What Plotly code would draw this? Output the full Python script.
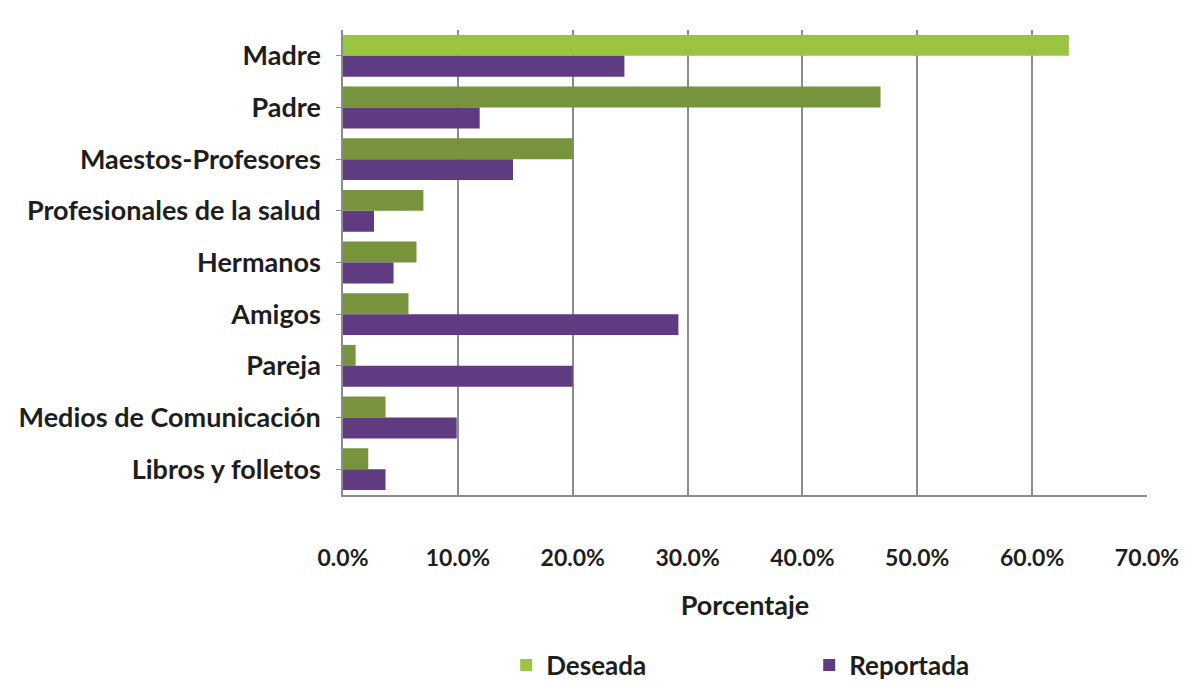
import plotly.graph_objects as go

categorias = ['Madre', 'Padre', 'Maestos-Profesores', 'Profesionales de la salud', 'Hermanos',
              'Amigos', 'Pareja', 'Medios de Comunicación', 'Libros y folletos']
deseada = [63.2, 46.8, 20.0, 7.0, 6.4, 5.7, 1.1, 3.7, 2.2]
reportada = [24.5, 11.9, 14.8, 2.7, 4.4, 29.2, 20.0, 9.9, 3.7]
ticks = [0, 10, 20, 30, 40, 50, 60, 70]
tick_labels = ['0.0%', '10.0%', '20.0%', '30.0%', '40.0%', '50.0%', '60.0%', '70.0%']

verde = ['#9bc443'] + ['#77933c'] * (len(categorias) - 1)

fig = go.Figure()
fig.add_trace(go.Bar(y=categorias, x=deseada, name='Deseada', orientation='h',
                     marker={'color': verde, 'line': {'width': 0}}))
fig.add_trace(go.Bar(y=categorias, x=reportada, name='Reportada', orientation='h',
                     marker={'color': '#5f3b82', 'line': {'width': 0}}))

# la pagina tiene 8px de margen en el body
fig.update_layout(
    width=1194, height=674,
    margin={'l': 335, 'r': 55, 't': 22, 'b': 187, 'autoexpand': False},
    plot_bgcolor='white', paper_bgcolor='white',
    font={'family': 'Lato, Open Sans, sans-serif', 'size': 20, 'color': '#1e1e1e', 'weight': 'bold'},
    barmode='group', bargap=0.19, bargroupgap=0,
    legend={'orientation': 'h', 'x': 0.203, 'xanchor': 'left', 'y': -0.366, 'yanchor': 'middle',
            'entrywidth': 258, 'font': {'size': 26, 'weight': 'bold'}, 'traceorder': 'normal'},
)
fig.update_xaxes(range=[0, 70], tickvals=ticks, ticktext=tick_labels, automargin=False,
                 showgrid=True, gridcolor='#8c8c8c', gridwidth=1.5,
                 showline=True, linecolor='#8c8c8c', linewidth=1.5,
                 ticks='', ticklabelstandoff=42, tickfont={'size': 23, 'weight': 'bold'},
                 title={'text': 'Porcentaje', 'font': {'size': 27, 'weight': 'bold'}, 'standoff': 26})
fig.update_yaxes(autorange='reversed', showline=True, linecolor='#8c8c8c', linewidth=1.5,
                 automargin=False, tickfont={'size': 27, 'weight': 'bold'},
                 ticks='outside', tickcolor='#8c8c8c', ticklen=5, ticklabelstandoff=10)

fig.write_html('out.html')
